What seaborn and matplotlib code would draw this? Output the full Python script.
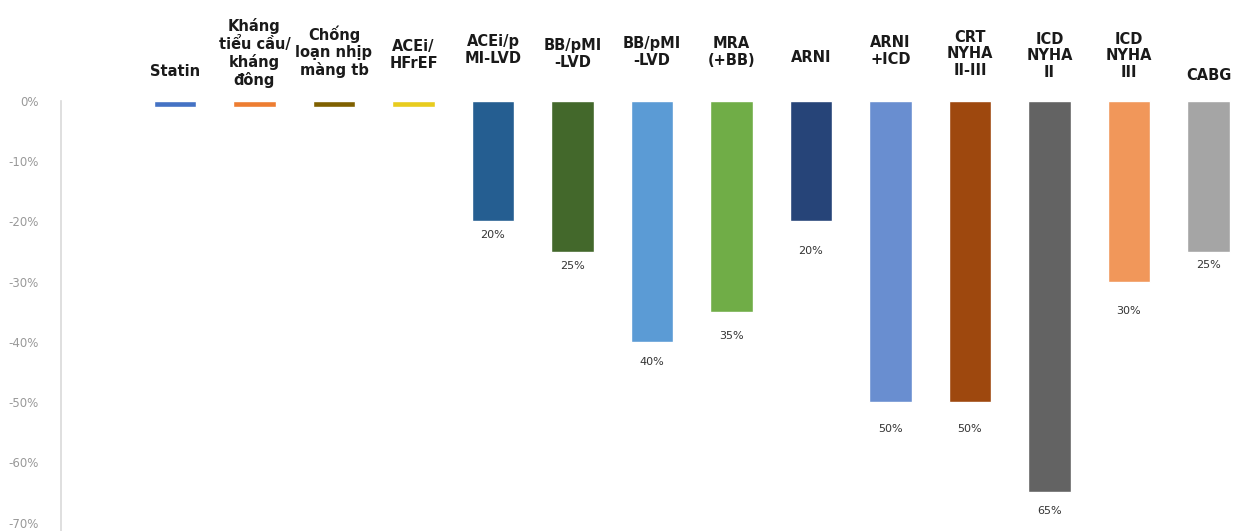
import matplotlib
matplotlib.use("Agg")
import matplotlib.pyplot as plt
import seaborn as sns
import pandas as pd

# Relative risk reduction by therapy (negative = reduction, in %)
categories = [
    "Statin", "Kháng\ntiểu cầu/\nkháng\nđông", "Chống\nloạn nhịp\nmàng tb",
    "ACEi/\nHFrEF", "ACEi/p\nMI-LVD", "BB/pMI\n-LVD", "BB/pMI\n-LVD ",
    "MRA\n(+BB)", "ARNI", "ARNI\n+ICD", "CRT\nNYHA\nII-III",
    "ICD\nNYHA\nII", "ICD\nNYHA\nIII", "CABG",
]
values = [-1, -1, -1, -1, -20, -25, -40, -35, -20, -50, -50, -65, -30, -25]
value_labels = ["", "", "", "", "20%", "25%", "40%", "35%", "20%",
                "50%", "50%", "65%", "30%", "25%"]
colors = ["#4472C4", "#ED7D31", "#7F6000", "#E8CC1E", "#255E91", "#43682B",
          "#5B9BD5", "#70AD47", "#264478", "#698ED0", "#9E480E", "#636363",
          "#F1975A", "#A5A5A5"]
yticks = [0, -10, -20, -30, -40, -50, -60, -70]
ytick_labels = ["0%", "-10%", "-20%", "-30%", "-40%", "-50%", "-60%", "-70%"]

# vertical placement of the header labels (pixels from top) and value-label gaps (px)
header_y = [72, 53, 52, 55, 50, 54, 52, 52, 58, 51, 54, 56, 56, 76]
label_gap = [0, 0, 0, 0, 14, 14, 20, 24, 30, 27, 27, 19, 29, 13]

sns.set_theme(style="white")
plt.rcParams["font.family"] = ["DejaVu Sans"]

W, H = 1249, 531
fig = plt.figure(figsize=(W / 100, H / 100), dpi=100)
ax = fig.add_axes([61 / W, 0, (W - 61) / W, 430 / H])

df = pd.DataFrame({"cat": categories, "val": values})
sns.barplot(data=df, x="cat", y="val", hue="cat", palette=colors,
            legend=False, width=0.53, ax=ax, saturation=1)

ax.set_xlim(-1.434, 13.51)
ax.set_ylim(-71.4, 0)
ax.set_yticks(yticks)
ax.set_yticklabels(ytick_labels, color="#999999", fontsize=8.5)
ax.tick_params(axis="y", length=0, pad=16)
ax.set_xticks([])
ax.set_xlabel("")
ax.set_ylabel("")
for s in ["top", "right", "bottom"]:
    ax.spines[s].set_visible(False)
ax.spines["left"].set_color("#d9d9d9")
ax.spines["left"].set_linewidth(1.2)

# value labels under each bar
for i, (v, lab) in enumerate(zip(values, value_labels)):
    if lab:
        ax.annotate(lab, (i, v), xytext=(0, -label_gap[i] * 0.72),
                    textcoords="offset points", ha="center", va="center",
                    fontsize=8, color="#333333")

# header labels above the bars
for i, (cat, yp) in enumerate(zip(categories, header_y)):
    xd = ax.transData.transform((i, 0))[0]
    fig.text(xd / W, 1 - yp / H, cat.strip(), ha="center", va="center",
             fontsize=10.5, fontweight="bold", color="#1a1a1a",
             linespacing=1.15, multialignment="center")

fig.savefig("out.png", dpi=100)
